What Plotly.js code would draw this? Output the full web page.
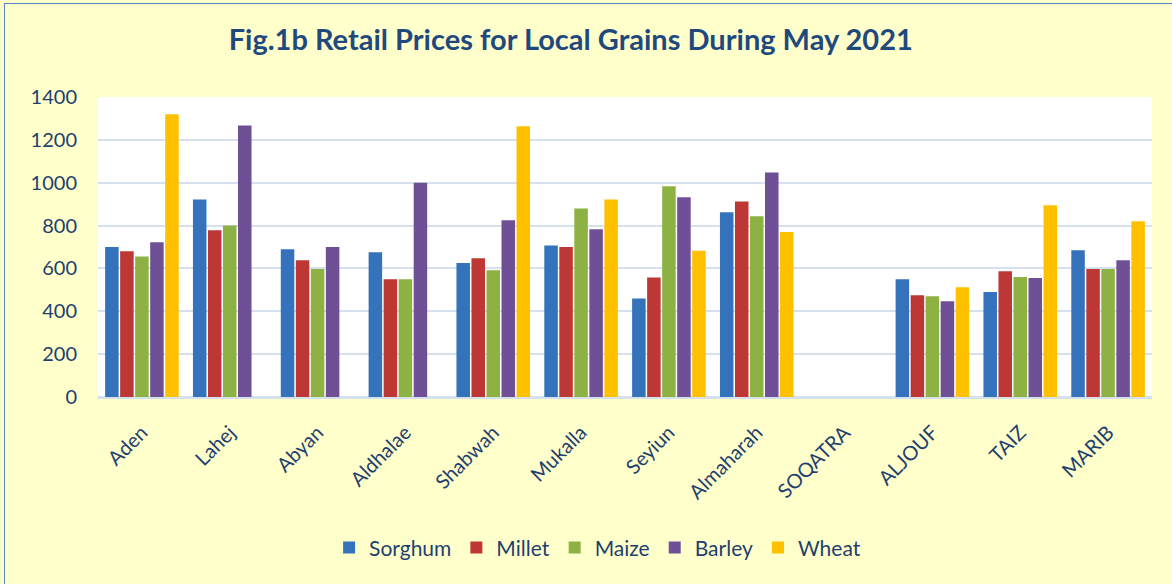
<!DOCTYPE html>
<html>
<head>
<meta charset="utf-8">
<script src="https://cdn.plot.ly/plotly-3.0.1.min.js"></script>
<style>
  html, body { margin:0; padding:0; background:#FFFFCC; width:1172px; height:584px; overflow:hidden; }
  #frame { position:absolute; left:4px; top:3px; width:1200px; height:600px; border-left:1.5px solid #5B86C5; border-top:1.5px solid #5B86C5; background:#FFFFCC; }
  #chart { position:absolute; left:0; top:0; width:1172px; height:584px; }
</style>
</head>
<body>
<div id="frame"></div>
<div id="chart"></div>
<script>
const categories = ["Aden","Lahej","Abyan","Aldhalae","Shabwah","Mukalla","Seyiun","Almaharah","SOQATRA","ALJOUF","TAIZ","MARIB"];
const sorghum = [700, 922, 690, 675, 625, 707, 460, 862, null, 550, 490, 685];
const millet  = [680, 778, 638, 550, 647, 700, 558, 912, null, 475, 587, 597];
const maize   = [656, 800, 597, 550, 592, 880, 983, 843, null, 470, 560, 597];
const barley  = [722, 1267, 700, 1000, 825, 783, 932, 1048, null, 447, 555, 638];
const wheat   = [1320, null, null, null, 1264, 922, 682, 770, null, 512, 895, 820];

const seriesNames = ["Sorghum","Millet","Maize","Barley","Wheat"];
const seriesData = [sorghum, millet, maize, barley, wheat];
const seriesColors = ["#3572BC","#BD3735","#8DB243","#6F5097","#FFC000"];

const font = "Lato, 'Open Sans', sans-serif";
const navy = "#1F3F6E";

const traces = seriesNames.map((n, i) => ({
  type: "bar",
  name: n,
  x: categories,
  y: seriesData[i],
  marker: { color: seriesColors[i], line: { width: 0 } },
  hoverinfo: "x+y+name"
}));

const layout = {
  width: 1172, height: 584,
  paper_bgcolor: "rgba(0,0,0,0)",
  plot_bgcolor: "#FFFFFF",
  margin: { l: 98, r: 20, t: 97, b: 187 },
  barmode: "group",
  bargap: 0.145,
  bargroupgap: 0.1,
  title: {
    text: "<b>Fig.1b Retail Prices for Local Grains During May 2021</b>",
    font: { family: font, size: 29, color: "#1F497D" },
    x: 0.487, xref: "container", xanchor: "center",
    y: 0.932, yref: "container", yanchor: "middle"
  },
  xaxis: {
    type: "category",
    tickangle: -45,
    tickfont: { family: font, size: 20, color: navy },
    showgrid: false,
    showline: true, linecolor: "#D6E1F0", linewidth: 2,
    ticks: "", ticklabelstandoff: 14
  },
  yaxis: {
    range: [0, 1400],
    tickvals: [0,200,400,600,800,1000,1200,1400],
    tickfont: { family: font, size: 20, color: navy },
    showgrid: true, gridcolor: "#D6E1F0", gridwidth: 2,
    zeroline: true, zerolinecolor: "#D6E1F0", zerolinewidth: 2,
    ticks: "", ticklabelstandoff: 20
  },
  legend: {
    orientation: "h",
    x: 0.474, xanchor: "center",
    y: -0.503, yanchor: "middle",
    font: { family: font, size: 21, color: navy },
    bgcolor: "rgba(0,0,0,0)",
    itemwidth: 30
  },
  showlegend: true
};

Plotly.newPlot("chart", traces, layout, { displayModeBar: false, staticPlot: true });
</script>
</body>
</html>
